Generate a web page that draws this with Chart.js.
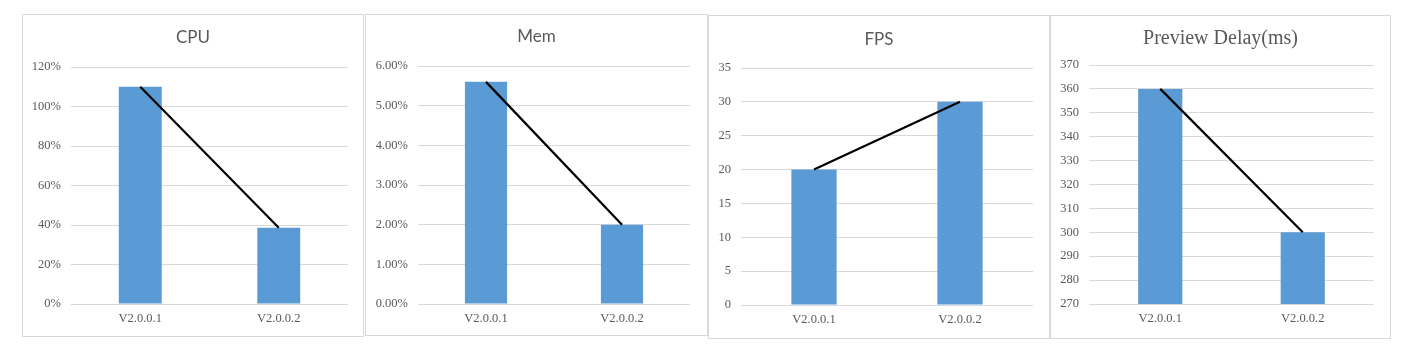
<!DOCTYPE html>
<html><head><meta charset="utf-8">
<script src="https://cdn.jsdelivr.net/npm/chart.js@4.4.1/dist/chart.umd.min.js"></script>
<style>
body{margin:0;background:#fff;width:1416px;height:360px;position:relative;overflow:hidden}
.panel{position:absolute;border:1px solid #d9d9d9;box-sizing:border-box;background:#fff}
.panel canvas{display:block}
</style></head><body>
<div class="panel" id="p0"><canvas id="c0"></canvas></div>
<div class="panel" id="p1"><canvas id="c1"></canvas></div>
<div class="panel" id="p2"><canvas id="c2"></canvas></div>
<div class="panel" id="p3"><canvas id="c3"></canvas></div>
<script>
// ---- data ----
const categories = ["V2.0.0.1", "V2.0.0.2"];
const cpuValues = [110, 38.6];
const memValues = [5.6, 2.0];
const fpsValues = [20, 30];
const delayValues = [360, 300];
const titles = ["CPU", "Mem", "FPS", "Preview Delay(ms)"];
const cpuTicks = [0, 120, 20];
const memTicks = [0, 6, 1];
const fpsTicks = [0, 35, 5];
const delayTicks = [270, 370, 10];

const series = [cpuValues, memValues, fpsValues, delayValues];
const tickSpecs = [cpuTicks, memTicks, fpsTicks, delayTicks];
const formatters = [
  v => v + '%',
  v => v.toFixed(2) + '%',
  v => String(v),
  v => String(v)
];

// ---- layout / style ----
const panels = [
  {x:22,  y:14, w:342, h:323, L:48, R:325, T:52, B:289, cy:23,   font:"Lato", size:17},
  {x:365, y:14, w:343, h:322, L:52, R:324, T:51, B:289, cy:21.7, font:"Lato", size:17},
  {x:708, y:15, w:342, h:324, L:32, R:324, T:52, B:289, cy:23.3, font:"Lato", size:17},
  {x:1050,y:15, w:341, h:324, L:38, R:323, T:49, B:288, cy:23,   font:"'Liberation Serif', 'Times New Roman', serif", size:20}
];
const gray = '#595959';
const gridColor = '#d9d9d9';
const barColor = '#5b9bd5';
const tickFont = {family:"'Liberation Serif', 'Times New Roman', serif", size:12.5};

panels.forEach((p, i) => {
  const div = document.getElementById('p' + i);
  div.style.left = p.x + 'px'; div.style.top = p.y + 'px';
  div.style.width = p.w + 'px'; div.style.height = p.h + 'px';
  const cw = p.w - 2, ch = p.h - 2;
  const cv = document.getElementById('c' + i);
  cv.width = cw; cv.height = ch;
  cv.style.width = cw + 'px'; cv.style.height = ch + 'px';
  const padR = cw - p.R;
  const lh = p.size * 1.2;
  const [mn, mx, st] = tickSpecs[i];
  new Chart(cv, {
    data: {
      labels: categories,
      datasets: [
        {type:'line', data: series[i], borderColor:'#000', borderWidth:2.2, pointRadius:0, fill:false, tension:0, order:0},
        {type:'bar', data: series[i], backgroundColor: barColor, borderWidth:0, barPercentage:0.31, categoryPercentage:1, order:1}
      ]
    },
    options: {
      responsive:false, animation:false,
      layout:{padding:0},
      plugins:{
        legend:{display:false}, tooltip:{enabled:false},
        title:{display:true, text:titles[i], color:gray,
          font:{family:p.font, size:p.size, weight:'normal', lineHeight:1.2},
          padding:{top:p.cy - lh/2, bottom:p.T - p.cy - lh/2}}
      },
      scales:{
        x:{
          grid:{display:false, drawTicks:false},
          border:{display:false},
          ticks:{color:gray, font:tickFont, padding:7, maxRotation:0},
          afterFit: s => { s.height = ch - p.B; }
        },
        y:{
          min:mn, max:mx,
          grid:{color:gridColor, lineWidth:1, drawTicks:false},
          border:{display:false},
          ticks:{stepSize:st, color:gray, font:tickFont, padding:10, callback: formatters[i]},
          afterFit: s => { s.width = p.L; }
        },
        spacer:{
          type:'linear', position:'right', min:0, max:1,
          grid:{display:false, drawTicks:false},
          border:{display:false},
          ticks:{display:false},
          afterFit: s => { s.width = padR; }
        }
      }
    }
  });
});
</script>
</body></html>
